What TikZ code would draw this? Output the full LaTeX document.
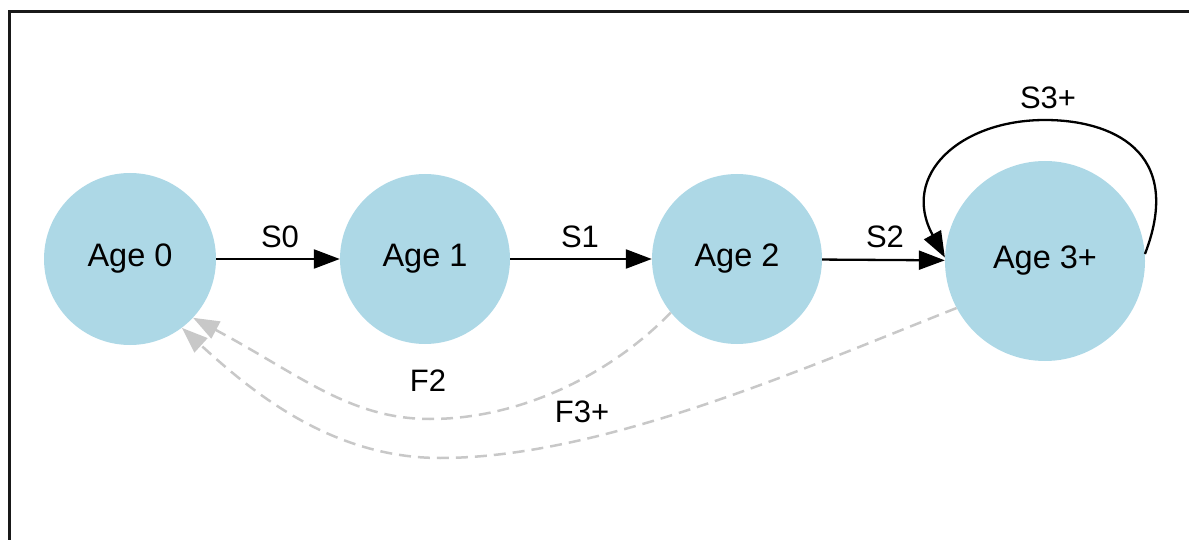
\documentclass[tikz,border=0pt]{standalone}
\usepackage{fontspec}
\setmainfont{Liberation Sans}
\usetikzlibrary{arrows.meta}
\definecolor{nodeblue}{RGB}{173,216,230}
\definecolor{dashgray}{RGB}{200,200,200}
\definecolor{framec}{RGB}{25,25,25}
\tikzset{
  state/.style={circle, fill=nodeblue, draw=none, inner sep=0pt, font=\fontsize{32.5}{38}\selectfont},
  lbl/.style={font=\fontsize{31}{36}\selectfont, inner sep=0pt},
  surv/.style={line width=2.3pt, draw=black, -{Triangle[length=26pt,width=19pt]}},
  fert/.style={line width=2.5pt, draw=dashgray, dash pattern=on 12pt off 7pt, -{Triangle[length=26pt,width=19pt,fill=dashgray]}},
}
\begin{document}
\begin{tikzpicture}[x=1pt,y=-1pt]
\useasboundingbox (0,0) rectangle (1189,540);
\draw[line width=3pt, framec] (9,541) -- (9,12) -- (1190,12);

\node[state, minimum size=172pt] (a0) at (130,259) {Age 0};
\node[state, minimum size=170pt] (a1) at (425,259) {Age 1};
\node[state, minimum size=170pt] (a2) at (737,259) {Age 2};
\node[state, minimum size=200pt] (a3) at (1045,261) {Age 3+};

\draw[surv] (a0) -- (a1);
\draw[surv] (a1) -- (a2);
\draw[surv] (a2) -- (a3);
\draw[surv] (a3.4) .. controls (1185,150) and (1110,120) .. (1045,120)
  .. controls (960,120) and (900,175) .. (a3.178);

\draw[fert] (a2.219) .. controls (610,375) and (520,419) .. (430,419)
  .. controls (350,419) and (300,375) .. (a0.317);
\draw[fert] (a3.208) .. controls (800,370) and (600,458) .. (440,458)
  .. controls (330,458) and (250,390) .. (a0.307);

\node[lbl] (s0) at (280,237) {S0};
\node[lbl] (s1) at (580,237) {S1};
\node[lbl] (s2) at (885,237) {S2};
\node[lbl] (s3) at (1048,98) {S3+};
\node[lbl] (f2) at (428,381) {F2};
\node[lbl] (f3) at (582,412) {F3+};
\end{tikzpicture}
\end{document}
